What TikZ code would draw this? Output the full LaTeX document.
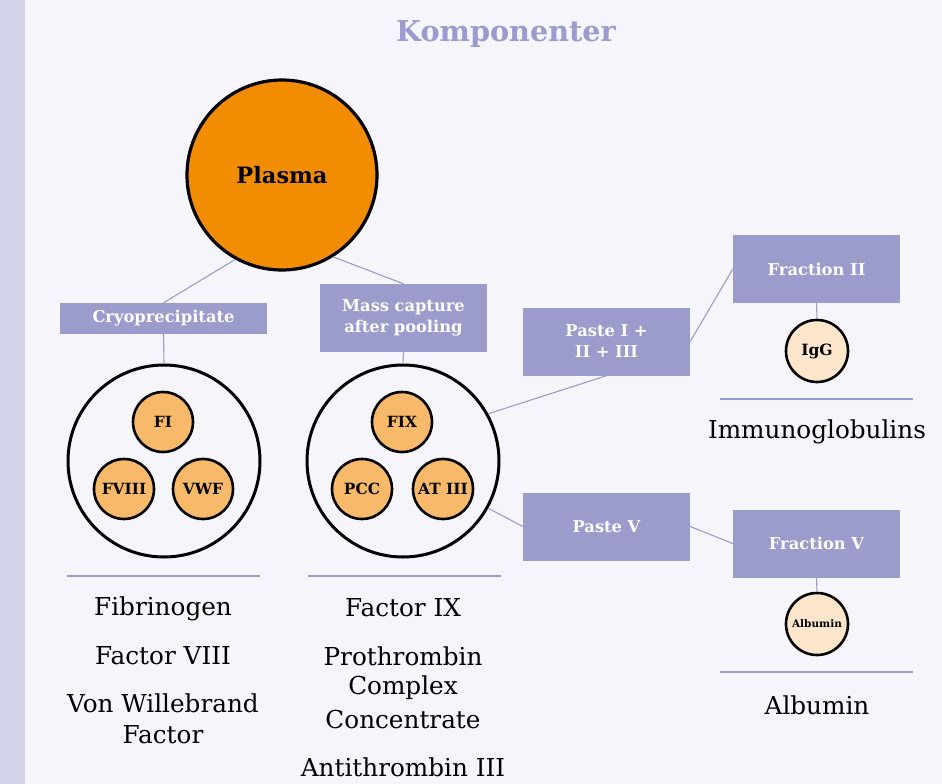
\documentclass[tikz,border=0pt]{standalone}
\usepackage{fontspec}
\setmainfont{DejaVu Serif}
\definecolor{bg}{HTML}{F5F5FB}
\definecolor{strip}{HTML}{D3D3EA}
\definecolor{boxc}{HTML}{9B9BCC}
\definecolor{linec}{HTML}{9B9BD4}
\definecolor{orangeA}{HTML}{F28C00}
\definecolor{orangeB}{HTML}{F8B96A}
\definecolor{peach}{HTML}{FDE6CC}
\definecolor{titlec}{HTML}{9B9BCF}
\tikzset{
  box/.style={rectangle, fill=boxc, text=white, font=\bfseries\fontsize{16.3}{21}\selectfont, align=center, inner sep=0pt, minimum width=167pt, minimum height=68pt},
  big/.style={circle, draw=black, line width=3pt, minimum size=192pt, inner sep=0pt},
  small/.style={circle, draw=black, line width=2.6pt, fill=orangeB, minimum size=60pt, inner sep=0pt, font=\bfseries\fontsize{15.4}{18}\selectfont},
  prod/.style={circle, draw=black, line width=2.6pt, fill=peach, minimum size=62pt, inner sep=0pt},
  conn/.style={draw=linec, line width=1.1pt},
  sep/.style={draw=linec, line width=1.4pt},
  lbl/.style={font=\fontsize{24.7}{28}\selectfont, inner sep=0pt, anchor=center},
}
\begin{document}
\begin{tikzpicture}[x=1pt,y=-1pt]
\useasboundingbox (0,0) rectangle (942,784);
\fill[bg] (0,0) rectangle (942,784);
\fill[strip] (0,0) rectangle (25,784);
\node[font=\bfseries\fontsize{28.7}{32}\selectfont, text=titlec] (title) at (506,34) {Komponenter};

\node[circle, draw=black, line width=3.2pt, fill=orangeA, minimum size=190pt, inner sep=0pt, font=\bfseries\fontsize{22.5}{26}\selectfont] (plasma) at (282,175) {Plasma};

\node[box, minimum width=207pt, minimum height=31pt] (cryo) at (163.5,318.5) {Cryoprecipitate};
\node[box, minimum width=167pt, minimum height=68pt, text width=160pt] (mass) at (403.5,318) {Mass capture\\after pooling};
\node[box] (paste1) at (606.5,341.5) {Paste I +\\II + III};
\node[box] (frac2) at (816.5,269) {Fraction II};
\node[box] (paste5) at (606.5,526.5) {Paste V};
\node[box] (frac5) at (816.5,543.5) {Fraction V};

\node[big] (lc) at (164,461) {};
\node[big] (rc) at (403,461) {};

\node[small] (fi) at (163,422) {FI};
\node[small] (fviii) at (124,489) {FVIII};
\node[small] (vwf) at (203,489) {VWF};
\node[small] (fix) at (402,422) {FIX};
\node[small] (pcc) at (362,489) {PCC};
\node[small] (at3) at (443,489) {AT III};

\node[prod, font=\bfseries\fontsize{15.5}{18}\selectfont] (igg) at (817,351) {IgG};
\node[prod, font=\bfseries\fontsize{10.5}{12}\selectfont] (alb) at (817,624) {Albumin};

\draw[conn] (plasma.-119) -- (cryo.north);
\draw[conn] (plasma.-58) -- (mass.north);
\draw[conn] (cryo.south) -- (lc.north);
\draw[conn] (mass.south) -- (rc.north);
\draw[conn] (rc.29) -- (paste1.south);
\draw[conn] (paste1.east) -- (frac2.west);
\draw[conn] (frac2.south) -- (igg.north);
\draw[conn] (rc.-29) -- (paste5.west);
\draw[conn] (paste5.east) -- (frac5.west);
\draw[conn] (frac5.south) -- (alb.north);

\coordinate (s1a) at (67,576); \coordinate (s1b) at (260,576);
\coordinate (s2a) at (308,576); \coordinate (s2b) at (501,576);
\coordinate (s3a) at (720,399); \coordinate (s3b) at (913,399);
\coordinate (s4a) at (720,672); \coordinate (s4b) at (913,672);
\draw[sep] (s1a) -- (s1b);
\draw[sep] (s2a) -- (s2b);
\draw[sep] (s3a) -- (s3b);
\draw[sep] (s4a) -- (s4b);

\node[lbl] (t1) at (163,609) {Fibrinogen};
\node[lbl] (t2) at (163,656) {Factor VIII};
\node[lbl] (t3) at (163,703) {Von Willebrand};
\node[lbl] (t4) at (163,735) {Factor};
\node[lbl] (t5) at (403,608) {Factor IX};
\node[lbl] (t6) at (403,656) {Prothrombin};
\node[lbl] (t7) at (403,688) {Complex};
\node[lbl] (t8) at (403,719) {Concentrate};
\node[lbl] (t9) at (403,767) {Antithrombin III};
\node[lbl] (t10) at (817,432) {Immunoglobulins};
\node[lbl] (t11) at (817,705) {Albumin};
\end{tikzpicture}
\end{document}
